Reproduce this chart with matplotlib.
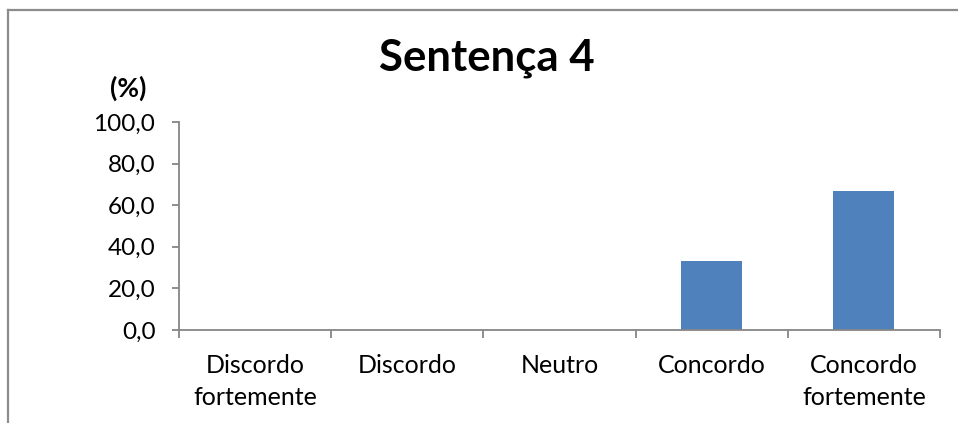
import matplotlib
matplotlib.use("Agg")
import matplotlib.pyplot as plt
from matplotlib.ticker import FixedLocator, FuncFormatter
from matplotlib.lines import Line2D

categories = ["Discordo\nfortemente", "Discordo", "Neutro", "Concordo", "Concordo\nfortemente"]
percent = [0.0, 0.0, 0.0, 33.3, 66.7]
y_ticks = [0, 20, 40, 60, 80, 100]

plt.rcParams["font.family"] = ["Lato", "DejaVu Sans"]
AXIS_GRAY = "#868686"
BAR_BLUE = "#4F81BD"

fig = plt.figure(figsize=(9.58, 4.23), dpi=100)
W, H = 958, 423

# chart frame (only top and left edges are in view)
fig.add_artist(Line2D([8 / W, 8 / W], [0, 1 - 10 / H], transform=fig.transFigure,
                      color="#8c8c8c", lw=1.6))
fig.add_artist(Line2D([8 / W, 1], [1 - 10 / H, 1 - 10 / H], transform=fig.transFigure,
                      color="#8c8c8c", lw=1.6))

ax = fig.add_axes([179 / W, 1 - 330 / H, (940 - 179) / W, (330 - 122) / H])
x = list(range(len(categories)))
ax.bar(x, percent, width=0.4, color=BAR_BLUE, zorder=2)

ax.set_xlim(-0.5, len(categories) - 0.5)
ax.set_ylim(0, 100)

for side in ("top", "right"):
    ax.spines[side].set_visible(False)
for side in ("left", "bottom"):
    ax.spines[side].set_color(AXIS_GRAY)
    ax.spines[side].set_linewidth(1.3)

ax.set_yticks(y_ticks)
ax.yaxis.set_major_formatter(FuncFormatter(lambda v, p: f"{v:.1f}".replace(".", ",")))
ax.tick_params(axis="y", length=5, width=1.3, color=AXIS_GRAY, pad=12,
               labelsize=17.5, labelcolor="black")

# category labels centred, tick marks between categories
ax.set_xticks(x)
ax.set_xticklabels(categories, linespacing=1.5)
ax.xaxis.set_minor_locator(FixedLocator([i - 0.5 for i in range(len(categories) + 1)]))
ax.tick_params(axis="x", which="major", length=0, pad=17, labelsize=18, labelcolor="black")
ax.tick_params(axis="x", which="minor", length=6, width=1.3, color=AXIS_GRAY)

fig.text(487 / W, 1 - 58 / H, "Sentença 4", ha="center", va="center",
         fontsize=31.5, fontweight="bold")
fig.text(128 / W, 1 - 88 / H, "(%)", ha="center", va="center",
         fontsize=19, fontweight="bold")

fig.savefig("out.png", dpi=100, facecolor="white")
